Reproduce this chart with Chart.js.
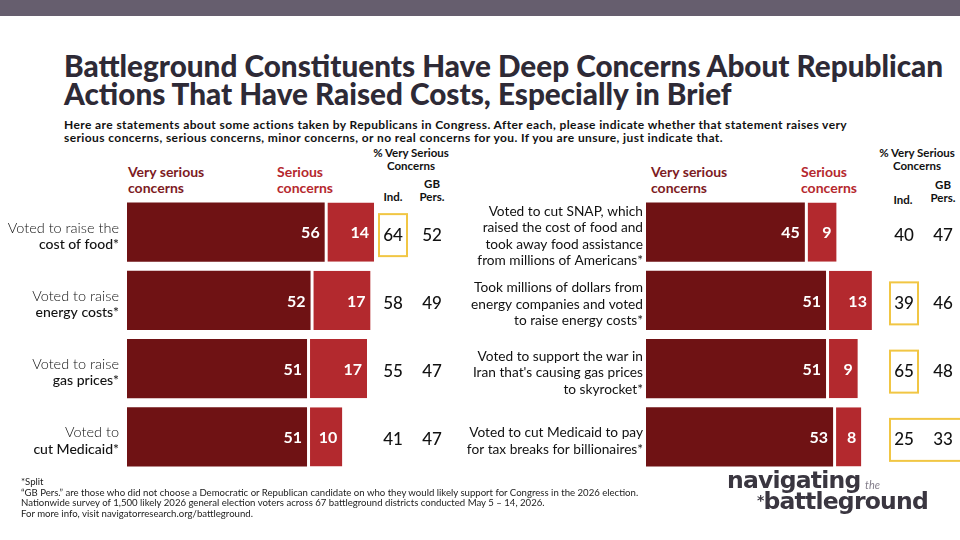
<!DOCTYPE html>
<html>
<head>
    <title>Battleground Concerns</title>
    <meta charset="utf-8" />
    <script src="https://cdn.jsdelivr.net/npm/chart.js@4.4.1/dist/chart.umd.min.js"></script>
    <style>
        body {
            margin: 0;
            width: 960px;
            height: 540px;
            position: relative;
            overflow: hidden;
            background: #fff;
            font-family: Lato, sans-serif;
        }
        .abs { position: absolute; white-space: nowrap; }
        .band { left: 0; top: 0; width: 960px; height: 16px; background: #665e6e; }
        .title { left: 64px; top: 52px; font-weight: 900; font-size: 29.7px; line-height: 28px; color: #2e2a36; }
        .sub { left: 64px; top: 118px; font-weight: 700; font-size: 12px; letter-spacing: 0.4px; line-height: 13px; color: #111; }
        .hdr { font-weight: 700; font-size: 14px; line-height: 16px; }
        .very { color: #7d1b1f; }
        .ser { color: #b5282e; }
        .col { font-weight: 700; font-size: 11.5px; line-height: 13px; color: #111; text-align: center; }
        .foot { left: 21px; top: 477px; font-size: 9.6px; line-height: 10.7px; color: #222; }
        .logo { font-family: "DejaVu Sans", sans-serif; font-weight: bold; color: #3a3640; font-size: 23.5px; line-height: 23.5px; letter-spacing: -0.8px; }
        canvas { position: absolute; top: 140px; }
    </style>
</head>
<body>
    <div class="abs band"></div>
    <div class="abs title">Battleground Constituents Have Deep Concerns About Republican<br>Actions That Have Raised Costs, Especially in Brief</div>
    <div class="abs sub">Here are statements about some actions taken by Republicans in Congress. After each, please indicate whether that statement raises very<br>serious concerns, serious concerns, minor concerns, or no real concerns for you. If you are unsure, just indicate that.</div>

    <div class="abs hdr very" style="left:128px; top:164px;">Very serious<br>concerns</div>
    <div class="abs hdr ser" style="left:277px; top:164px;">Serious<br>concerns</div>
    <div class="abs hdr very" style="left:651px; top:164px;">Very serious<br>concerns</div>
    <div class="abs hdr ser" style="left:801px; top:164px;">Serious<br>concerns</div>

    <div class="abs col" style="left:361px; width:100px; top:146px;">% Very Serious<br>Concerns</div>
    <div class="abs col" style="left:373px; width:40px; top:190px;">Ind.</div>
    <div class="abs col" style="left:412px; width:40px; top:177px;">GB<br>Pers.</div>
    <div class="abs col" style="left:867px; width:100px; top:146px;">% Very Serious<br>Concerns</div>
    <div class="abs col" style="left:883px; width:40px; top:193px;">Ind.</div>
    <div class="abs col" style="left:923px; width:40px; top:178px;">GB<br>Pers.</div>

    <canvas id="left" width="480" height="340" style="left:0px;"></canvas>
    <canvas id="right" width="640" height="340" style="left:320px;"></canvas>

    <div class="abs foot">*Split<br>“GB Pers.” are those who did not choose a Democratic or Republican candidate on who they would likely support for Congress in the 2026 election.<br>Nationwide survey of 1,500 likely 2026 general election voters across 67 battleground districts conducted May 5 – 14, 2026.<br>For more info, visit navigatorresearch.org/battleground.</div>

    <div class="abs logo" style="left:727px; top:469px;">navigating</div>
    <div class="abs" style="left:865px; top:478px; font-size:11px; font-style:italic; color:#857f8c;">the</div>
    <div class="abs logo" style="left:757px; top:489px;"><span style="font-size:14px; vertical-align:4px;">*</span>battleground</div>

    <script>
        // left panel
        const leftLabels = [
            ['Voted to raise the', 'cost of food*'],
            ['Voted to raise', 'energy costs*'],
            ['Voted to raise', 'gas prices*'],
            ['Voted to', 'cut Medicaid*']
        ];
        const leftVery = [56, 52, 51, 51];
        const leftSerious = [14, 17, 17, 10];
        const leftInd = [64, 58, 55, 41];
        const leftGB = [52, 49, 47, 47];
        const leftIndBox = [true, false, false, false];
        const leftGBBox = [false, false, false, false];

        // right panel
        const rightLabels = [
            ['Voted to cut SNAP, which', 'raised the cost of food and', 'took away food assistance', 'from millions of Americans*'],
            ['Took millions of dollars from', 'energy companies and voted', 'to raise energy costs*'],
            ['Voted to support the war in', "Iran that's causing gas prices", 'to skyrocket*'],
            ['Voted to cut Medicaid to pay', 'for tax breaks for billionaires*']
        ];
        const rightVery = [45, 51, 51, 53];
        const rightSerious = [9, 13, 9, 8];
        const rightInd = [40, 39, 65, 25];
        const rightGB = [47, 46, 48, 33];
        const rightIndBox = [false, true, true, true];
        const rightGBBox = [false, false, false, true];

        const DARK = '#6f1214';
        const RED = '#b3292e';
        const BOX = '#f1c644';

        function overlay(p) {
            return {
                id: 'overlay',
                afterDatasetsDraw(chart) {
                    const ctx = chart.ctx;
                    ctx.save();
                    // numbers inside bars
                    ctx.fillStyle = '#fff';
                    ctx.font = 'bold 16px Lato';
                    ctx.textAlign = 'right';
                    ctx.textBaseline = 'middle';
                    chart.data.datasets.forEach((ds, di) => {
                        chart.getDatasetMeta(di).data.forEach((bar, i) => {
                            ctx.fillText(ds.data[i], bar.x - 5, bar.y + 1);
                        });
                    });

                    const y = chart.scales.y;
                    // category labels
                    ctx.fillStyle = '#111';
                    p.labels.forEach((lines, i) => {
                        const cy = y.getPixelForValue(i) + 4;
                        const top = cy - (lines.length - 1) * 16.5 / 2;
                        lines.forEach((t, k) => {
                            ctx.font = (k === 0 ? p.font0 : p.font1);
                            ctx.fillText(t, p.labelX, top + k * 16.5);
                        });
                    });

                    // Ind. / GB Pers. columns
                    ctx.textAlign = 'center';
                    ctx.font = '500 17px Lato';
                    p.ind.forEach((v, i) => {
                        const cy = y.getPixelForValue(i) + 3;
                        ctx.fillText(v, p.indX, cy);
                        ctx.fillText(p.gb[i], p.gbX, cy);
                    });

                    // highlight boxes
                    ctx.strokeStyle = BOX;
                    ctx.lineWidth = 2;
                    p.ind.forEach((v, i) => {
                        const cy = y.getPixelForValue(i) + 3;
                        if (p.indBox[i] && p.gbBox[i]) {
                            ctx.strokeRect(p.indX - 14, cy - 21, p.gbX - p.indX + 28 + 10, 42);
                        } else {
                            if (p.indBox[i]) ctx.strokeRect(p.indX - 14, cy - 21, 28, 42);
                            if (p.gbBox[i]) ctx.strokeRect(p.gbX - 14, cy - 21, 28, 42);
                        }
                    });
                    ctx.restore();
                }
            };
        }

        function makeChart(id, very, serious, padLeft, max, p) {
            new Chart(document.getElementById(id), {
                type: 'bar',
                data: {
                    labels: p.labels.map(l => l.join(' ')),
                    datasets: [{
                        label: 'Very serious concerns',
                        data: very,
                        backgroundColor: DARK,
                        borderWidth: 0
                    }, {
                        label: 'Serious concerns',
                        data: serious,
                        backgroundColor: RED,
                        borderColor: '#fff',
                        borderWidth: { left: 3, right: 0, top: 0, bottom: 0 },
                        borderSkipped: false
                    }]
                },
                options: {
                    indexAxis: 'y',
                    responsive: false,
                    animation: false,
                    datasets: { bar: { categoryPercentage: 1, barPercentage: 0.87 } },
                    layout: { padding: { left: padLeft, right: 0, top: 58, bottom: 9 } },
                    scales: {
                        x: { stacked: true, min: 0, max: max, display: false },
                        y: { stacked: true, display: false }
                    },
                    plugins: {
                        legend: { display: false },
                        tooltip: { enabled: false }
                    }
                },
                plugins: [overlay(p)]
            });
        }

        // same px per percent on both panels
        const pxPerUnit = (480 - 127) / 100;

        makeChart('left', leftVery, leftSerious, 127, 100, {
            labels: leftLabels, font0: '300 14.5px Lato', font1: '500 14px Lato', labelX: 119,
            ind: leftInd, gb: leftGB, indBox: leftIndBox, gbBox: leftGBBox,
            indX: 393, gbX: 432
        });
        makeChart('right', rightVery, rightSerious, 326, (640 - 326) / pxPerUnit, {
            labels: rightLabels, font0: '400 13.7px Lato', font1: '400 13.7px Lato', labelX: 323,
            ind: rightInd, gb: rightGB, indBox: rightIndBox, gbBox: rightGBBox,
            indX: 584, gbX: 623
        });
    </script>
</body>
</html>
